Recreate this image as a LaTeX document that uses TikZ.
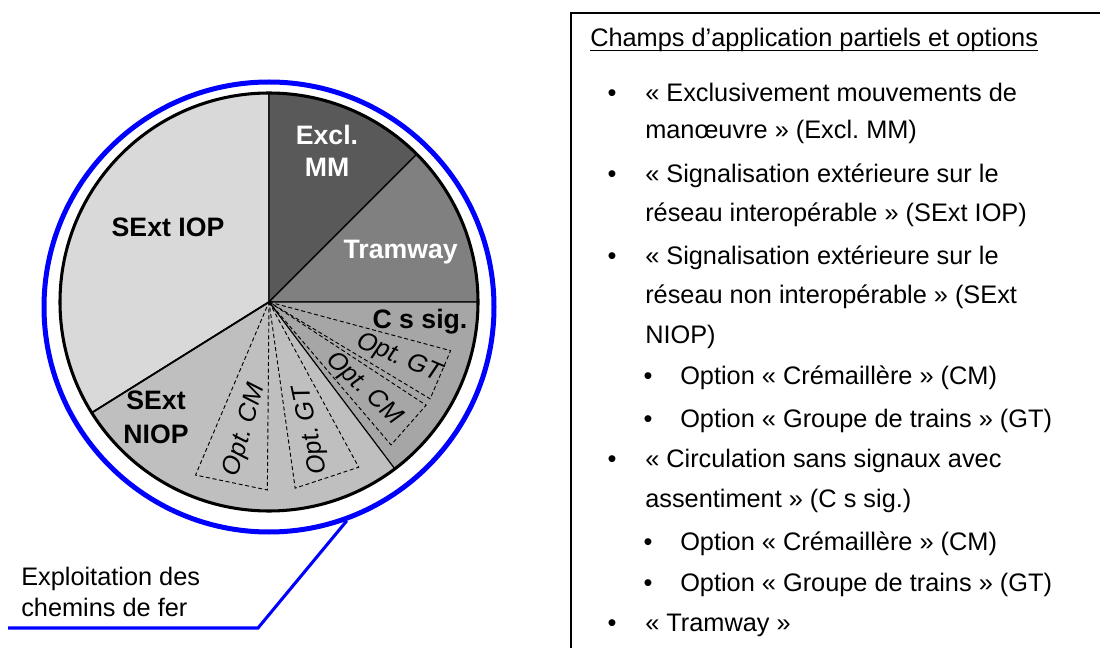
\documentclass[tikz,border=0pt]{standalone}
\usepackage{fontspec}
\setmainfont{Liberation Sans}
\frenchspacing

\definecolor{iopgray}{HTML}{D9D9D9}
\definecolor{mmgray}{HTML}{595959}
\definecolor{tramgray}{HTML}{808080}
\definecolor{csgray}{HTML}{A6A6A6}
\definecolor{niopgray}{HTML}{BFBFBF}
\definecolor{railblue}{HTML}{0000FF}

\begin{document}
\begin{tikzpicture}
  [x=0.75pt,y=0.75pt,
   every node/.style={font=\fontsize{19}{24}\selectfont,inner sep=0pt},
   slice/.style={draw=black,line width=0.8pt},
   optwedge/.style={draw=black,line width=0.7pt,dash pattern=on 3pt off 2pt},
   optlabel/.style={font=\fontsize{19}{24}\selectfont\itshape},
   pielabel/.style={font=\fontsize{20}{24}\selectfont\bfseries,anchor=base},
   railline/.style={draw=railblue,line width=2.3pt}]
  \useasboundingbox (0,0) rectangle (1100,-648);

  % pie of the partial scopes
  \begin{scope}[shift={(269,-302)}]
    \coordinate (ctr) at (0,0);
    \foreach \a/\b/\col in {90/212/iopgray,45/90/mmgray,0/45/tramgray,-53/0/csgray,-148/-53/niopgray}
      \filldraw[slice,fill=\col] (ctr) -- (\a:209) arc[start angle=\a,end angle=\b,radius=209] -- cycle;
    \draw[line width=1.4pt] (ctr) -- (212:209);
    \draw[line width=2.3pt] (ctr) circle[radius=209];

    % options
    \foreach \a/\b in {-15/-31,-33.3/-49.5,-61.5/-82,-90.5/-113}
      \draw[optwedge] (ctr) -- (\a:188) -- (\b:188) -- cycle;

    \node[pielabel] (iop) at (-101,65.3) {SExt IOP};
    \node[pielabel,white] (mm1) at (58,157) {Excl.};
    \node[pielabel,white] (mm2) at (58,125.3) {MM};
    \node[pielabel,white] (tram) at (131.7,43.7) {Tramway};
    \node[pielabel] (cssig) at (151,-26.3) {C s sig.};
    \node[pielabel] (niop1) at (-113,-108) {SExt};
    \node[pielabel] (niop2) at (-113,-141.3) {NIOP};

    \node[optlabel,rotate=-23] (csgt) at (130,-56) {Opt. GT};
    \node[optlabel,rotate=-43] (cscm) at (95,-87) {Opt. CM};
    \node[optlabel,rotate=74] (niopcm) at (-24,-128) {Opt. CM};
    \node[optlabel,rotate=102] (niopgt) at (42.5,-128) {Opt. GT};

    \node[circle,draw=railblue,line width=3.75pt,minimum size=337.5pt] (rail) at (0,-5) {};
  \end{scope}

  % callout
  \coordinate (bend) at (258,-628);
  \coordinate (lend) at (8,-628);
  \draw[railline] (rail.-70) -- (bend) -- (lend);
  \node[anchor=base west] (expl1) at (21,-585) {Exploitation des};
  \node[anchor=base west] (expl2) at (21,-616.7) {chemins de fer};

  % legend box
  \draw[line width=1.5pt] (1102,-13) -| (571,-650);
  \node[anchor=base west] (title) at (590,-47) {Champs d’application partiels et options};
  \draw[line width=1pt] ([yshift=-2.5pt]title.base west) -- ([yshift=-2.5pt]title.base east);

  \foreach \x/\y/\txt [count=\i] in {
      645/101.5/« Exclusivement mouvements de,
      645/139/manœuvre » (Excl. MM),
      645/183/« Signalisation extérieure sur le,
      645/221.7/réseau interopérable » (SExt IOP),
      645/265/« Signalisation extérieure sur le,
      645/304/réseau non interopérable » (SExt,
      645/343.3/NIOP),
      680/384.3/Option « Crémaillère » (CM),
      680/427.3/Option « Groupe de trains » (GT),
      645/467.7/« Circulation sans signaux avec,
      645/507.7/assentiment » (C s sig.),
      680/550/Option « Crémaillère » (CM),
      680/591.7/Option « Groupe de trains » (GT),
      645/631.7/« Tramway »}
    \node[anchor=base west] (line\i) at (\x,-\y) {\txt};

  \foreach \x/\y [count=\i] in {612/101.5,612/183,612/265,648/384.3,648/427.3,612/467.7,648/550,648/591.7,612/631.7}
    \node[anchor=base] (dot\i) at (\x,-\y) {\textbullet};
\end{tikzpicture}
\end{document}
